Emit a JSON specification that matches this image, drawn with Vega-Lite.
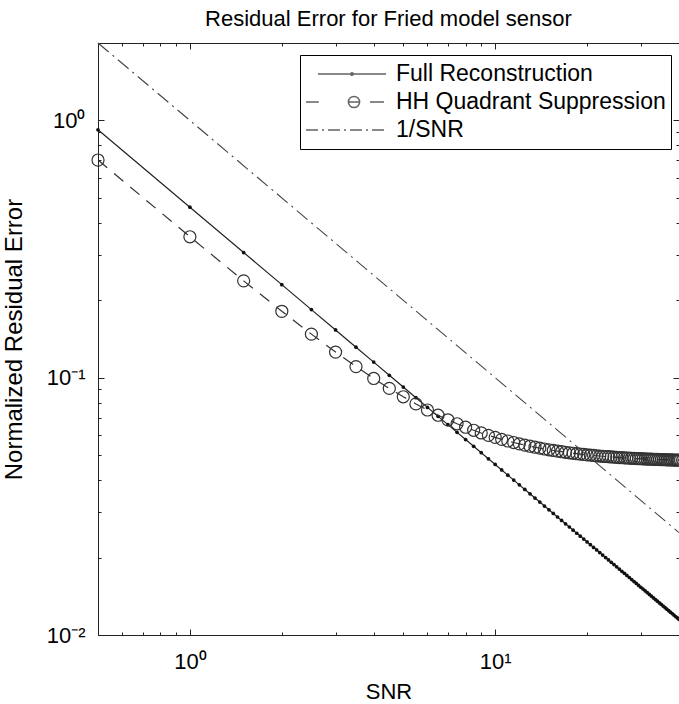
{
  "$schema": "https://vega.github.io/schema/vega-lite/v6.json",
  "width": 581,
  "height": 592,
  "autosize": "none",
  "padding": {"left": 98, "top": 43, "right": 0, "bottom": 69},
  "background": "white",
  "title": {"text": "Residual Error for Fried model sensor", "fontSize": 22, "font": "Liberation Sans", "fontWeight": "normal", "color": "black", "offset": 1, "frame": "group", "anchor": "middle"},
  "config": {
    "view": {"stroke": "#222", "strokeWidth": 1},
    "font": "Liberation Sans"
  },
  "datasets": {
    "curves": [
      {"snr":0.5,"full":0.92,"hh":0.7016},
      {"snr":1,"full":0.46,"hh":0.3531},
      {"snr":1.5,"full":0.3067,"hh":0.238},
      {"snr":2,"full":0.23,"hh":0.1812},
      {"snr":2.5,"full":0.184,"hh":0.1477},
      {"snr":3,"full":0.1533,"hh":0.1258},
      {"snr":3.5,"full":0.1314,"hh":0.1105},
      {"snr":4,"full":0.115,"hh":0.09932},
      {"snr":4.5,"full":0.1022,"hh":0.09088},
      {"snr":5,"full":0.092,"hh":0.08432},
      {"snr":5.5,"full":0.08364,"hh":0.07911},
      {"snr":6,"full":0.07667,"hh":0.07491},
      {"snr":6.5,"full":0.07077,"hh":0.07148},
      {"snr":7,"full":0.06571,"hh":0.06862},
      {"snr":7.5,"full":0.06133,"hh":0.06623},
      {"snr":8,"full":0.0575,"hh":0.06421},
      {"snr":8.5,"full":0.05412,"hh":0.06249},
      {"snr":9,"full":0.05111,"hh":0.061},
      {"snr":9.5,"full":0.04842,"hh":0.05972},
      {"snr":10,"full":0.046,"hh":0.0586},
      {"snr":10.5,"full":0.04381,"hh":0.05762},
      {"snr":11,"full":0.04182,"hh":0.05676},
      {"snr":11.5,"full":0.04,"hh":0.05599},
      {"snr":12,"full":0.03833,"hh":0.05532},
      {"snr":12.5,"full":0.0368,"hh":0.05471},
      {"snr":13,"full":0.03538,"hh":0.05417},
      {"snr":13.5,"full":0.03407,"hh":0.05368},
      {"snr":14,"full":0.03286,"hh":0.05324},
      {"snr":14.5,"full":0.03172,"hh":0.05284},
      {"snr":15,"full":0.03067,"hh":0.05247},
      {"snr":15.5,"full":0.02968,"hh":0.05214},
      {"snr":16,"full":0.02875,"hh":0.05184},
      {"snr":16.5,"full":0.02788,"hh":0.05157},
      {"snr":17,"full":0.02706,"hh":0.05131},
      {"snr":17.5,"full":0.02629,"hh":0.05108},
      {"snr":18,"full":0.02556,"hh":0.05086},
      {"snr":18.5,"full":0.02486,"hh":0.05066},
      {"snr":19,"full":0.02421,"hh":0.05048},
      {"snr":19.5,"full":0.02359,"hh":0.05031},
      {"snr":20,"full":0.023,"hh":0.05015},
      {"snr":20.5,"full":0.02244,"hh":0.05},
      {"snr":21,"full":0.0219,"hh":0.04987},
      {"snr":21.5,"full":0.0214,"hh":0.04974},
      {"snr":22,"full":0.02091,"hh":0.04962},
      {"snr":22.5,"full":0.02044,"hh":0.04951},
      {"snr":23,"full":0.02,"hh":0.04941},
      {"snr":23.5,"full":0.01957,"hh":0.04931},
      {"snr":24,"full":0.01917,"hh":0.04921},
      {"snr":24.5,"full":0.01878,"hh":0.04912},
      {"snr":25,"full":0.0184,"hh":0.04904},
      {"snr":25.5,"full":0.01804,"hh":0.04896},
      {"snr":26,"full":0.01769,"hh":0.04889},
      {"snr":26.5,"full":0.01736,"hh":0.04882},
      {"snr":27,"full":0.01704,"hh":0.04875},
      {"snr":27.5,"full":0.01673,"hh":0.04869},
      {"snr":28,"full":0.01643,"hh":0.04863},
      {"snr":28.5,"full":0.01614,"hh":0.04858},
      {"snr":29,"full":0.01586,"hh":0.04853},
      {"snr":29.5,"full":0.01559,"hh":0.04848},
      {"snr":30,"full":0.01533,"hh":0.04843},
      {"snr":30.5,"full":0.01508,"hh":0.04838},
      {"snr":31,"full":0.01484,"hh":0.04833},
      {"snr":31.5,"full":0.0146,"hh":0.04829},
      {"snr":32,"full":0.01438,"hh":0.04826},
      {"snr":32.5,"full":0.01415,"hh":0.04822},
      {"snr":33,"full":0.01394,"hh":0.04819},
      {"snr":33.5,"full":0.01373,"hh":0.04815},
      {"snr":34,"full":0.01353,"hh":0.04811},
      {"snr":34.5,"full":0.01333,"hh":0.04808},
      {"snr":35,"full":0.01314,"hh":0.04805},
      {"snr":35.5,"full":0.01296,"hh":0.04802},
      {"snr":36,"full":0.01278,"hh":0.048},
      {"snr":36.5,"full":0.0126,"hh":0.04797},
      {"snr":37,"full":0.01243,"hh":0.04795},
      {"snr":37.5,"full":0.01227,"hh":0.04792},
      {"snr":38,"full":0.01211,"hh":0.0479},
      {"snr":38.5,"full":0.01195,"hh":0.04787},
      {"snr":39,"full":0.01179,"hh":0.04785},
      {"snr":39.5,"full":0.01165,"hh":0.04783},
      {"snr":40,"full":0.0115,"hh":0.04781}
    ],
    "ref": [
      {"snr":0.5,"inv":2},
      {"snr":40,"inv":0.025}
    ],
    "legendrows": [
      {"series":"Full Reconstruction"},
      {"series":"HH Quadrant Suppression"},
      {"series":"1/SNR"}
    ]
  },
  "resolve": {"axis": {"x": "independent", "y": "independent"}},
  "layer": [
    {
      "data": {"name": "curves"},
      "mark": {"type": "line", "color": "#222", "strokeWidth": 1.2},
      "encoding": {
        "x": {"field": "snr", "type": "quantitative",
          "scale": {"type": "log", "domain": [0.5, 40], "nice": false},
          "axis": {
            "values": [0.5,0.6,0.7,0.8,0.9,1,2,3,4,5,6,7,8,9,10,20,30,40],
            "labelExpr": "datum.value == 1 ? '10⁰' : datum.value == 10 ? '10¹' : ''",
            "tickSize": {"condition": {"test": "datum.value == 1 || datum.value == 10", "value": -6}, "value": -3},
            "labelPadding": 22,
            "labelOverlap": false, "labelFlush": false,
            "domainColor": "#222", "tickColor": "#222", "grid": false,
            "labelFontSize": 22, "labelFont": "Liberation Sans", "labelColor": "black",
            "title": "SNR", "titleFontSize": 22, "titleFont": "Liberation Sans", "titleFontWeight": "normal", "titleColor": "black", "titlePadding": 6
          }},
        "y": {"field": "full", "type": "quantitative",
          "scale": {"type": "log", "domain": [0.01, 2], "nice": false},
          "axis": {
            "values": [0.01,0.02,0.03,0.04,0.05,0.06,0.07,0.08,0.09,0.1,0.2,0.3,0.4,0.5,0.6,0.7,0.8,0.9,1,2],
            "labelExpr": "datum.value == 1 ? '10⁰' : datum.value == 0.1 ? '10⁻¹' : datum.value == 0.01 ? '10⁻²' : ''",
            "tickSize": {"condition": {"test": "datum.value == 1 || datum.value == 0.1 || datum.value == 0.01", "value": -6}, "value": -3},
            "labelPadding": 19,
            "labelOverlap": false, "labelFlush": false,
            "domainColor": "#222", "tickColor": "#222", "grid": false,
            "labelFontSize": 22, "labelFont": "Liberation Sans", "labelColor": "black",
            "title": "Normalized Residual Error", "titleFontSize": 24, "titleFont": "Liberation Sans", "titleFontWeight": "normal", "titleColor": "black", "titlePadding": 20
          }}
      }
    },
    {
      "data": {"name": "curves"},
      "mark": {"type": "point", "shape": "circle", "filled": true, "color": "#111", "size": 14, "opacity": 1},
      "encoding": {
        "x": {"field": "snr", "type": "quantitative", "scale": {"type": "log", "domain": [0.5, 40], "nice": false}, "axis": null},
        "y": {"field": "full", "type": "quantitative", "scale": {"type": "log", "domain": [0.01, 2], "nice": false}, "axis": null}
      }
    },
    {
      "data": {"name": "curves"},
      "mark": {"type": "line", "color": "#333", "strokeWidth": 1.2, "strokeDash": [12, 9]},
      "encoding": {
        "x": {"field": "snr", "type": "quantitative", "scale": {"type": "log", "domain": [0.5, 40], "nice": false}, "axis": null},
        "y": {"field": "hh", "type": "quantitative", "scale": {"type": "log", "domain": [0.01, 2], "nice": false}, "axis": null}
      }
    },
    {
      "data": {"name": "curves"},
      "mark": {"type": "point", "shape": "circle", "filled": false, "color": "#333", "size": 145, "strokeWidth": 1.2, "opacity": 1},
      "encoding": {
        "x": {"field": "snr", "type": "quantitative", "scale": {"type": "log", "domain": [0.5, 40], "nice": false}, "axis": null},
        "y": {"field": "hh", "type": "quantitative", "scale": {"type": "log", "domain": [0.01, 2], "nice": false}, "axis": null}
      }
    },
    {
      "data": {"name": "ref"},
      "mark": {"type": "line", "color": "#444", "strokeWidth": 1.1, "strokeDash": [14, 5, 2, 5]},
      "encoding": {
        "x": {"field": "snr", "type": "quantitative", "scale": {"type": "log", "domain": [0.5, 40], "nice": false},
          "axis": {
            "orient": "top",
            "values": [0.5,0.6,0.7,0.8,0.9,1,2,3,4,5,6,7,8,9,10,20,30,40],
            "labels": false, "title": null, "grid": false,
            "tickSize": {"condition": {"test": "datum.value == 1 || datum.value == 10", "value": -6}, "value": -3},
            "domainColor": "#222", "tickColor": "#222"
          }},
        "y": {"field": "inv", "type": "quantitative", "scale": {"type": "log", "domain": [0.01, 2], "nice": false},
          "axis": {
            "orient": "right",
            "values": [0.01,0.02,0.03,0.04,0.05,0.06,0.07,0.08,0.09,0.1,0.2,0.3,0.4,0.5,0.6,0.7,0.8,0.9,1,2],
            "labels": false, "title": null, "grid": false,
            "tickSize": {"condition": {"test": "datum.value == 1 || datum.value == 0.1 || datum.value == 0.01", "value": -6}, "value": -3},
            "domainColor": "#222", "tickColor": "#222"
          }}
      }
    },
    {
      "data": {"name": "legendrows"},
      "transform": [{"filter": "datum.series == 'none'"}],
      "mark": {"type": "point", "filled": false, "color": "#222", "strokeWidth": 1.2},
      "encoding": {
        "shape": {"field": "series", "type": "nominal",
          "scale": {
            "domain": ["Full Reconstruction", "HH Quadrant Suppression", "1/SNR"],
            "range": [
              "M-0.7,0H1M0.12,0A0.03,0.03 0 1,0 0.18,0A0.03,0.03 0 1,0 0.12,0",
              "M-1,0H-0.68M0.6,0H0.95M0.06,0A0.14,0.14 0 1,0 0.34,0A0.14,0.14 0 1,0 0.06,0M0.06,0H0.34",
              "M-1,0H-0.7M-0.6,0H-0.55M-0.45,0H-0.15M-0.05,0H0M0.1,0H0.4M0.5,0H0.55M0.65,0H0.95"
            ]
          },
          "legend": {
            "orient": "none", "legendX": 202, "legendY": 12, "title": null,
            "symbolSize": 6400, "clipHeight": 28, "rowPadding": 0, "padding": 5,
            "labelFontSize": 23, "labelFont": "Liberation Sans", "labelColor": "black", "labelOffset": 9, "labelLimit": 400,
            "strokeColor": "black", "fillColor": "white",
            "symbolStrokeWidth": 1.5, "symbolStrokeColor": "#222", "symbolOffset": 0
          }}
      }
    }
  ]
}
